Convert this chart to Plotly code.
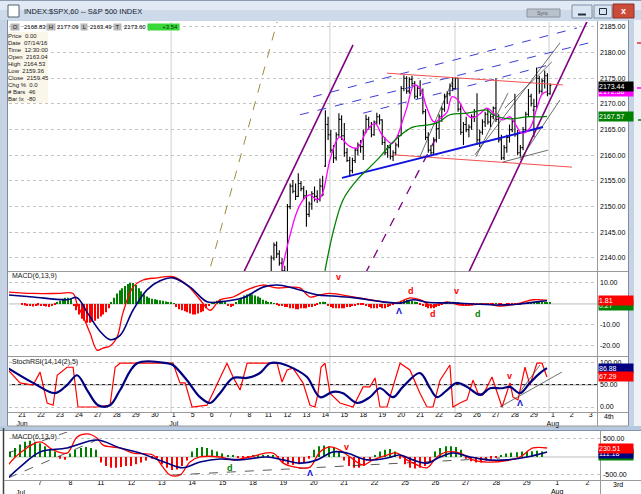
import plotly.graph_objects as go

FONT = "Liberation Sans, Arial, sans-serif"
W, H = 641, 494

RED = "#ff0000"
NAVY = "#000080"
GREEN = "#008000"
BLUE = "#1010e0"

# ---------------- upper window: SPX 60 min, x = trading day index (0 = Jun 21) ----------------
day_labels = ["21<br>Jun", "22", "23", "24", "27", "28", "29", "30", "1<br>Jul", "5", "6", "7", "8",
              "11", "12", "13", "14", "15", "18", "19", "20", "21", "22", "25", "26", "27", "28", "29",
              "1<br>Aug", "2", "3"]
bar_days = list(range(13, 28))  # Jul 11 .. Jul 29, earlier bars sit below the price scale
bars_per_day = 7

bar_open = [
    2129.9, 2136.0, 2140.0, 2142.5, 2140.8, 2139.0, 2137.5,
    2137.2, 2150.0, 2154.0, 2153.0, 2152.0, 2154.5, 2153.5,
    2152.1, 2148.5, 2150.5, 2152.5, 2152.0, 2151.5, 2154.0,
    2157.9, 2166.0, 2164.0, 2161.0, 2159.5, 2164.0, 2167.0,
    2163.8, 2160.5, 2159.0, 2157.0, 2159.0, 2161.0, 2162.0,
    2161.7, 2164.5, 2167.0, 2165.5, 2164.0, 2166.5, 2167.5,
    2166.9, 2162.5, 2160.5, 2161.5, 2159.8, 2160.5, 2162.0,
    2163.8, 2173.0, 2175.0, 2172.5, 2174.8, 2174.0, 2171.5,
    2173.0, 2172.0, 2168.5, 2163.5, 2161.0, 2160.5, 2163.0,
    2165.2, 2167.5, 2169.0, 2171.5, 2172.0, 2173.5, 2173.0,
    2175.0, 2169.0, 2164.5, 2166.0, 2165.0, 2165.5, 2167.5,
    2168.5, 2163.0, 2164.5, 2166.5, 2168.0, 2166.5, 2167.5,
    2169.2, 2167.0, 2163.0, 2159.5, 2161.5, 2163.5, 2165.0,
    2166.6, 2164.0, 2160.5, 2161.5, 2165.0, 2168.0, 2171.5,
    2168.8, 2169.5, 2175.0, 2172.5, 2174.5, 2175.5, 2172.0,
]
bar_high = [
    2136.5, 2140.5, 2143.0, 2143.2, 2141.5, 2140.0, 2138.5,
    2150.5, 2154.5, 2155.2, 2154.5, 2156.5, 2155.0, 2154.0,
    2153.2, 2151.0, 2153.0, 2153.9, 2153.2, 2155.5, 2156.0,
    2168.8, 2167.5, 2165.0, 2162.0, 2164.5, 2168.2, 2167.8,
    2166.3, 2161.4, 2159.7, 2159.5, 2161.5, 2162.5, 2163.0,
    2165.0, 2167.9, 2167.5, 2166.5, 2166.8, 2168.3, 2168.0,
    2167.0, 2163.5, 2162.0, 2162.0, 2161.0, 2162.5, 2164.0,
    2173.5, 2175.6, 2175.4, 2175.2, 2175.5, 2174.5, 2173.5,
    2174.6, 2173.0, 2169.0, 2164.5, 2162.0, 2163.5, 2166.5,
    2168.0, 2169.5, 2172.0, 2172.5, 2174.0, 2175.1, 2175.1,
    2175.0, 2170.0, 2166.5, 2167.5, 2166.0, 2168.0, 2169.0,
    2172.1, 2165.0, 2167.0, 2168.5, 2169.0, 2168.0, 2169.5,
    2175.0, 2168.0, 2164.0, 2162.0, 2164.0, 2166.0, 2167.0,
    2172.0, 2165.0, 2162.0, 2165.5, 2168.5, 2172.9, 2172.0,
    2171.0, 2177.1, 2175.5, 2175.0, 2176.5, 2176.0, 2174.0,
]
bar_low = [
    2129.9, 2135.5, 2139.5, 2140.0, 2138.5, 2137.0, 2136.5,
    2137.2, 2149.5, 2152.6, 2151.3, 2151.9, 2153.0, 2151.5,
    2146.1, 2148.0, 2149.4, 2151.0, 2150.7, 2151.0, 2152.0,
    2157.7, 2163.0, 2160.5, 2158.5, 2159.0, 2163.6, 2163.0,
    2159.7, 2158.7, 2155.8, 2156.5, 2158.5, 2160.0, 2160.5,
    2159.1, 2164.3, 2165.0, 2163.5, 2163.8, 2166.0, 2166.0,
    2162.0, 2160.0, 2159.5, 2159.2, 2158.9, 2160.0, 2161.5,
    2163.8, 2172.5, 2172.0, 2172.0, 2173.5, 2171.0, 2171.0,
    2171.5, 2168.0, 2163.0, 2160.5, 2159.8, 2160.0, 2162.5,
    2163.2, 2166.5, 2168.5, 2170.0, 2171.5, 2172.5, 2172.8,
    2168.5, 2164.0, 2162.0, 2164.5, 2163.5, 2165.0, 2166.5,
    2162.0, 2161.6, 2164.0, 2165.5, 2166.0, 2165.5, 2167.0,
    2166.5, 2162.5, 2159.1, 2159.1, 2160.5, 2162.5, 2164.5,
    2163.6, 2160.0, 2159.7, 2161.0, 2164.5, 2167.5, 2169.5,
    2163.5, 2169.0, 2172.0, 2172.0, 2173.0, 2171.5, 2171.8,
]
bar_close = [
    2136.0, 2140.0, 2142.5, 2140.8, 2139.0, 2137.5, 2137.2,
    2150.0, 2154.0, 2153.0, 2152.0, 2154.5, 2153.5, 2152.1,
    2148.5, 2150.5, 2152.5, 2152.0, 2151.5, 2154.0, 2152.4,
    2166.0, 2164.0, 2161.0, 2159.5, 2164.0, 2167.0, 2163.8,
    2160.5, 2159.0, 2157.0, 2159.0, 2161.0, 2162.0, 2161.7,
    2164.5, 2167.0, 2165.5, 2164.0, 2166.5, 2167.5, 2166.9,
    2162.5, 2160.5, 2161.5, 2159.8, 2160.5, 2162.0, 2163.8,
    2173.0, 2175.0, 2172.5, 2174.8, 2174.0, 2171.5, 2173.0,
    2172.0, 2168.5, 2163.5, 2161.0, 2160.5, 2163.0, 2165.2,
    2167.5, 2169.0, 2171.5, 2172.0, 2173.5, 2173.0, 2175.0,
    2169.0, 2164.5, 2166.0, 2165.0, 2165.5, 2167.5, 2168.5,
    2163.0, 2164.5, 2166.5, 2168.0, 2166.5, 2167.5, 2169.2,
    2167.0, 2163.0, 2159.5, 2161.5, 2163.5, 2165.0, 2166.6,
    2164.0, 2160.5, 2161.5, 2165.0, 2168.0, 2171.5, 2170.1,
    2169.5, 2175.0, 2172.5, 2174.5, 2175.5, 2172.0, 2173.6,
]

ma_fast_x = [13.71, 14.14, 14.50, 14.82, 15.19, 15.56, 15.82, 16.24, 16.61, 16.77, 17.19, 17.67, 18.20,
             18.62, 18.99, 19.51, 19.78, 20.09, 20.31, 20.68, 20.99, 21.36, 21.73, 22.10, 22.42, 22.68,
             22.99, 23.37, 23.73, 24.16, 24.53, 24.95, 25.37, 25.74, 26.05, 26.37, 26.79, 27.16, 27.43, 27.69]
ma_fast = [2137.7, 2144.5, 2149.0, 2151.3, 2152.3, 2151.3, 2152.3, 2159.1, 2163.0, 2163.6, 2162.0, 2161.4,
           2164.9, 2166.2, 2164.0, 2162.3, 2163.6, 2166.9, 2169.4, 2173.7, 2173.1, 2169.2, 2166.5, 2167.3,
           2168.4, 2171.4, 2170.8, 2168.4, 2167.3, 2168.1, 2169.2, 2167.9, 2166.9, 2167.5, 2165.9, 2164.3,
           2165.3, 2169.2, 2171.9, 2172.4]
ma_slow_x = [15.98, 16.40, 16.93, 17.67, 18.35, 18.88, 19.41, 20.09, 20.62, 21.36, 21.89, 22.57, 23.47,
             24.53, 24.84, 25.74, 26.63, 27.48, 27.69]
ma_slow = [2137.5, 2144.9, 2151.3, 2155.2, 2157.7, 2159.7, 2162.0, 2164.3, 2165.5, 2165.9, 2166.3, 2167.9,
           2168.2, 2168.8, 2167.9, 2167.1, 2167.5, 2167.5, 2167.6]

# hand-drawn trendlines: (x0, price0, x1, price1)
lines_purple = [(11.60, 2136.5, 17.46, 2181.5), (23.50, 2136.7, 29.95, 2187.2)]
lines_purple_dash = [(18.10, 2136.9, 21.78, 2163.0)]
lines_olive = [(9.70, 2135.0, 13.60, 2188.0)]
lines_blue_dash = [(15.35, 2171.4, 29.27, 2184.8), (14.66, 2167.9, 30.12, 2182.1), (17.99, 2168.2, 28.01, 2177.8)]
lines_blue = [(16.88, 2155.6, 27.48, 2165.5)]
lines_red = [(19.25, 2176.0, 28.53, 2173.7), (19.57, 2160.1, 29.01, 2157.7)]
lines_black = [(23.89, 2160.1, 28.38, 2181.9), (25.47, 2169.2, 27.95, 2178.2), (26.27, 2159.1, 28.38, 2170.8),
               (25.37, 2158.7, 27.74, 2161.0), (20.99, 2159.7, 22.73, 2174.7), (23.94, 2159.7, 25.63, 2172.1)]
session_lines = [7.86, 16.24, 22.84, 27.80]

# MACD(6,13,9) hourly
macd_x = [-0.74, 0.58, 2.00, 2.69, 2.90, 3.22, 3.59, 3.96, 4.27, 4.64, 5.01, 5.33, 5.85, 6.38, 7.12, 7.96,
          8.70, 9.39, 9.92, 10.44, 11.13, 11.87, 12.71, 13.45, 14.14, 14.66, 15.19, 15.72, 16.24, 17.46,
          18.35, 19.04, 19.78, 20.46, 20.99, 21.68, 22.42, 23.10, 24.53, 25.21, 26.11, 26.95, 27.69]
macd = [5.7, 5.0, 5.0, 5.0, 0.0, -6.0, -14.0, -22.0, -21.0, -20.0, -15.7, -4.0, 8.0, 11.4, 12.4, 13.0,
        9.0, 2.0, -3.0, 2.0, 3.3, 6.7, 9.0, 7.6, 8.0, 7.6, 3.3, 4.3, 5.0, 3.3,
        2.0, 1.0, 0.5, 2.9, 2.0, -1.0, 1.0, -0.5, 0.0, -1.0, 0.0, 2.0, 1.8]
signal_x = [-0.74, 0.58, 2.37, 2.90, 3.43, 4.11, 4.64, 5.17, 5.85, 6.59, 7.28, 7.96, 8.86, 9.76, 10.44,
            11.66, 12.71, 13.45, 14.29, 15.56, 16.40, 17.46, 19.04, 19.94, 20.62, 21.36, 22.05, 22.73,
            23.79, 25.21, 26.27, 27.16, 27.69]
signal = [4.3, 3.3, 2.0, 3.0, -4.0, -13.0, -17.0, -15.0, -3.0, 6.7, 11.0, 12.4, 8.0, 1.0, 1.0,
          2.9, 8.0, 9.0, 7.6, 4.3, 3.8, 3.0, 1.0, 0.4, 2.0, 0.8, 0.5, 0.5,
          0.0, -0.5, 0.0, 1.0, 1.5]
macd_hist_rows = [
    [-0.5, -0.8, -1.0, -1.0, -1.2, -1.0, -0.8], [-1.0, -1.0, -1.2, -1.5, -1.0, -0.5, 0.5],
    [1.5, 2.5, 3.0, 3.0, 2.5, -1.0, -3.0], [-5.0, -7.0, -8.0, -9.0, -9.0, -8.5, -8.0],
    [-7.0, -6.0, -5.0, -4.0, -2.0, 0.5, 3.0], [5.0, 6.5, 7.5, 8.5, 9.5, 10.0, 10.0],
    [9.0, 7.5, 6.0, 4.5, 3.5, 3.0, 2.5], [2.2, 2.0, 1.8, 1.5, 1.2, 0.8, 0.5],
    [0.2, -1.5, -2.5, -3.0, -3.5, -4.0, -4.5], [-5.0, -5.0, -4.5, -4.0, -3.5, -2.0, -1.0],
    [0.5, 1.0, 1.5, 2.0, 1.5, 1.0, -1.0], [-1.5, -1.0, 0.5, 2.0, 3.0, 4.0, 4.5],
    [5.0, 4.5, 4.0, 3.5, 3.0, 2.0, 1.5], [1.0, 0.5, 0.2, -0.5, -1.0, -1.0, -1.5],
    [-1.5, -2.0, -2.0, -2.5, -2.5, -2.0, -2.0], [-2.0, -1.5, -1.5, -1.0, -0.5, 0.5, 1.0],
    [0.5, -1.0, -1.5, -2.0, -2.0, -2.0, -2.0], [-2.0, -1.5, -1.5, -1.0, -1.0, -0.5, -0.5],
    [-0.5, -1.0, -1.5, -2.0, -2.0, -2.0, -1.5], [-2.0, -2.0, -1.5, -1.0, -0.5, 0.5, 1.0],
    [1.5, 2.0, 2.0, 2.0, 1.5, 1.0, 0.5], [-0.5, -1.0, -1.5, -2.0, -2.0, -2.0, -1.5],
    [-1.0, -0.5, 0.5, 1.0, 1.0, 1.0, 0.8], [0.5, -0.5, -1.0, -1.0, -1.0, -0.8, -0.5],
    [-0.3, 0.2, 0.3, 0.3, 0.2, -0.2, -0.3], [0.3, -0.5, -0.8, -1.0, -0.8, -0.5, -0.2],
    [-0.3, -0.5, -0.4, 0.2, 0.4, 0.6, 0.7], [0.8, 0.9, 1.0, 0.8, 0.7, 0.6, 0.5],
]

# StochRSI(14,14(2),5)
stoch_k_x = [-0.74, -0.11, 0.58, 0.95, 1.32, 1.64, 1.85, 2.37, 2.69, 2.95, 3.96, 4.64, 4.91, 5.17, 7.96,
             8.33, 8.60, 8.97, 9.76, 10.28, 10.81, 11.13, 11.50, 11.87, 13.45, 13.71, 13.98, 14.29, 14.82,
             15.19, 15.45, 15.61, 15.77, 15.98, 16.24, 16.77, 17.46, 17.99, 18.35, 18.62, 18.88, 19.25,
             19.94, 20.46, 20.99, 21.36, 21.68, 22.05, 22.57, 22.73, 23.10, 23.47, 23.79, 24.05, 24.31,
             24.79, 25.05, 25.32, 25.74, 25.90, 26.16, 26.53, 26.79, 27.16, 27.43, 27.69]
stoch_k = [83, 54, 49, 78, 9, 4, 71, 89, 89, 0, 0, 4, 89, 98, 98,
           54, 54, 0, 4, 49, 98, 67, 38, 98, 98, 56, 83, 87, 54,
           4, 0, 30, 89, 98, 31, 9, 0, 45, 45, 65, 0, 0,
           98, 83, 31, 0, 0, 60, 94, 0, 9, 16, 60, 31, 27,
           67, 34, 0, 54, 22, 16, 89, 49, 98, 98, 67]
stoch_d_x = [-0.74, 0.58, 1.74, 2.37, 2.90, 3.43, 4.01, 4.64, 5.17, 6.07, 7.65, 7.96, 8.70, 9.39, 9.92,
             10.44, 11.13, 11.87, 12.55, 13.08, 13.61, 14.29, 15.03, 15.72, 16.40, 16.93, 17.67, 18.35,
             18.88, 19.57, 20.09, 20.99, 21.52, 21.89, 22.42, 22.94, 23.47, 24.16, 24.68, 25.32, 25.74,
             26.27, 26.79, 27.32, 27.69]
stoch_d = [87, 54, 31, 49, 71, 38, 4, 4, 38, 98, 98, 94, 60, 22, 9,
           31, 65, 65, 76, 98, 98, 87, 67, 22, 34, 31, 9, 22,
           42, 22, 45, 76, 42, 22, 38, 54, 45, 27, 42, 42, 45,
           31, 54, 76, 87]
stoch_lines = [(25.21, 0.0, 28.48, 78.3), (26.27, 34.0, 27.32, 94.0)]

signals_macd = [(16.67, 12.9, "v", RED), (20.52, 6.2, "d", RED), (19.88, -3.3, "\u039b", BLUE),
                (21.68, -4.8, "d", RED), (22.94, 6.2, "v", RED), (24.05, -4.8, "d", GREEN)]
signals_stoch = [(25.74, 69, "v", RED), (26.27, 9, "\u039b", BLUE)]

# ---------------- lower window: MACD(6,13,9), x = day index (0 = Jul 7) ----------------
low_day_labels = ["7", "8", "11", "12", "13", "14", "15", "18", "19", "20", "21", "22", "25", "26",
                  "27", "28", "29", "1<br>Aug", "2"]
low_first_day = -1
low_bars_per_day = 6
low_macd_x = [-1.05, -0.66, 0.00, 0.43, 0.89, 1.22, 1.55, 1.87, 2.07, 2.63, 3.06, 3.71, 4.04, 4.27, 4.60,
              4.93, 5.26, 5.92, 6.34, 6.90, 7.66, 7.99, 8.55, 8.88, 9.20, 9.53, 9.86, 10.19, 10.62, 10.95,
              11.41, 11.74, 12.06, 12.39, 12.72, 13.05, 13.38, 13.81, 14.23, 14.69, 15.35, 15.78, 16.21, 16.67]
low_macd = [-222, 110, 420, 195, 110, 555, 640, 530, 330, 250, 110, 55, -280, -500, -500,
            -140, 0, 0, -80, 0, 110, -170, -300, -280, 140, 280, 195, 0, -220, -80,
            55, 110, -80, -220, -300, 0, 140, 110, -80, -140, -100, 0, 250, 250]
low_signal_x = [-1.05, -0.66, 0.00, 0.89, 1.87, 2.63, 3.29, 4.17, 4.70, 5.26, 5.92, 6.57, 7.46, 7.99, 8.55,
                9.11, 9.63, 10.09, 10.75, 11.41, 11.83, 12.26, 12.72, 13.15, 13.58, 14.14, 14.69, 15.35,
                16.01, 16.67]
low_signal = [-580, -280, 140, 250, 470, 250, 110, -170, -300, -140, -55, -80, 0, -80, -170,
              -80, 140, 110, -80, -30, 55, -80, -170, 0, 110, 0, -80, -80,
              0, 140]
low_hist_rows = [
    [150, 250, 350, 420, 450, 420], [380, 300, 220, 150, -50, -80], [100, 200, 250, 280, 250, 200],
    [-150, -250, -300, -300, -280, -250], [-250, -200, -150, -100, -50, -30],
    [-200, -300, -360, -350, -250, -100], [150, 250, 280, 250, 200, 150], [100, 50, 30, -30, -50, -30],
    [30, 50, 60, 50, 40, -50], [-150, -200, -220, -200, -150, -50], [200, 300, 320, 300, 250, 150],
    [-100, -250, -300, -300, -250, -100], [50, 150, 200, 220, 150, -50],
    [-200, -300, -320, -300, -250, -150], [150, 250, 300, 300, 280, 200],
    [-50, -120, -150, -150, -100, -50], [-30, 50, 100, 120, 130, 150], [150, 160, 170, 150],
]
low_lines = [(-1.05, -583, 1.87, 472), (-1.05, 110, 0.89, 694), (4.37, -500, 15.12, -28)]
signals_low = [(10.09, 278, "v", RED), (6.25, -306, "d", GREEN), (8.88, -444, "\u039b", BLUE)]


# ---------------- figure ----------------
def X(p):
    return p / W


def Y(p):
    return 1 - p / H


bar_x = [d + i / bars_per_day for d in bar_days for i in range(bars_per_day)]
hist_x = [d + i / bars_per_day for d, row in enumerate(macd_hist_rows) for i in range(len(row))]
hist = [v for row in macd_hist_rows for v in row]
low_hist_x = [low_first_day + d + i / low_bars_per_day for d, row in enumerate(low_hist_rows) for i in range(len(row))]
low_hist = [v for row in low_hist_rows for v in row]

fig = go.Figure()

fig.add_trace(go.Ohlc(x=bar_x, open=bar_open, high=bar_high, low=bar_low, close=bar_close,
                      increasing=dict(line=dict(color="black", width=1.1)),
                      decreasing=dict(line=dict(color="black", width=1.1)),
                      tickwidth=0.45, xaxis="x", yaxis="y"))


def seg(lines, color, width=1.0, dash="solid", xa="x", ya="y"):
    for x0, y0, x1, y1 in lines:
        fig.add_trace(go.Scatter(x=[x0, x1], y=[y0, y1], mode="lines", xaxis=xa, yaxis=ya,
                                 line=dict(color=color, width=width, dash=dash)))


seg(lines_olive, "#9c8c3c", 1, "dash")
seg(lines_purple, "#800080", 1.6)
seg(lines_purple_dash, "#800080", 1.3, "dash")
seg(lines_blue_dash, "#3c3cd8", 1, "dash")
seg(lines_red, "#f05050", 1)
seg(lines_black, "#303030", 0.7)
seg(lines_blue, BLUE, 2)

fig.add_trace(go.Scatter(x=ma_fast_x, y=ma_fast, mode="lines", line=dict(color="#ff00ff", width=1.3, shape="spline"),
                         xaxis="x", yaxis="y"))
fig.add_trace(go.Scatter(x=ma_slow_x, y=ma_slow, mode="lines", line=dict(color=GREEN, width=1.3, shape="spline"),
                         xaxis="x", yaxis="y"))

# MACD hourly
fig.add_trace(go.Bar(x=hist_x, y=hist, width=0.055, xaxis="x2", yaxis="y2",
                     marker=dict(color=[GREEN if v >= 0 else RED for v in hist], line=dict(width=0))))
fig.add_trace(go.Scatter(x=macd_x, y=macd, mode="lines", line=dict(color=RED, width=1.3, shape="spline"),
                         xaxis="x2", yaxis="y2"))
fig.add_trace(go.Scatter(x=signal_x, y=signal, mode="lines", line=dict(color=NAVY, width=1.6, shape="spline"),
                         xaxis="x2", yaxis="y2"))

# StochRSI
fig.add_trace(go.Scatter(x=stoch_k_x, y=stoch_k, mode="lines", line=dict(color=RED, width=1.2),
                         xaxis="x3", yaxis="y3"))
fig.add_trace(go.Scatter(x=stoch_d_x, y=stoch_d, mode="lines", line=dict(color=NAVY, width=2.2, shape="spline"),
                         xaxis="x3", yaxis="y3"))
seg(stoch_lines, "#303030", 0.7, xa="x3", ya="y3")

# lower MACD
fig.add_trace(go.Bar(x=low_hist_x, y=low_hist, width=0.035, xaxis="x4", yaxis="y4",
                     marker=dict(color=[GREEN if v >= 0 else RED for v in low_hist], line=dict(width=0))))
seg(low_lines, "#303030", 0.8, "dash", xa="x4", ya="y4")
fig.add_trace(go.Scatter(x=low_macd_x, y=low_macd, mode="lines", line=dict(color=RED, width=1.3, shape="spline"),
                         xaxis="x4", yaxis="y4"))
fig.add_trace(go.Scatter(x=low_signal_x, y=low_signal, mode="lines", line=dict(color=NAVY, width=1.6, shape="spline"),
                         xaxis="x4", yaxis="y4"))

tick_font = dict(family=FONT, size=7, color="black")
grid = dict(showgrid=True, gridcolor="#c4c4c4", griddash="dot", gridwidth=1, zeroline=False, automargin=False,
            showline=False, ticks="", tickfont=tick_font, side="right", ticklabelstandoff=2, fixedrange=True)
up_dom = [X(9), X(597)]

fig.update_layout(
    width=W, height=H, margin=dict(l=0, r=0, t=0, b=0, autoexpand=False),
    paper_bgcolor="#c9d6e6", plot_bgcolor="rgba(0,0,0,0)", showlegend=False,
    font=dict(family=FONT), hovermode=False,
    xaxis=dict(domain=up_dom, range=[-0.69, 30.33], anchor="y", showticklabels=False, showgrid=False,
               zeroline=False, rangeslider=dict(visible=False), fixedrange=True, automargin=False),
    yaxis=dict(domain=[Y(271), Y(22)], range=[2137.46, 2185.97], anchor="x",
               tickvals=[2140 + 5 * i for i in range(10)],
               ticktext=["%.2f" % (2140 + 5 * i) for i in range(10)], **grid),
    xaxis2=dict(domain=up_dom, matches="x", anchor="y2", showticklabels=False, showgrid=False, zeroline=False,
                automargin=False),
    yaxis2=dict(domain=[Y(355), Y(272)], range=[-24.3, 15.2], anchor="x2",
                tickvals=[10, -10, -20], ticktext=["10.00", "-10.00", "-20.00"], **grid),
    xaxis3=dict(domain=up_dom, matches="x", anchor="y3", showgrid=False, zeroline=False, ticks="",
                tickvals=list(range(len(day_labels))), ticktext=day_labels, tickfont=tick_font,
                ticklabelstandoff=-3, tickangle=0, automargin=False),
    yaxis3=dict(domain=[Y(412), Y(357)], range=[-11.2, 111.9], anchor="x3",
                tickvals=[0, 50, 100], ticktext=["0.00", "50.00", "100.00"], **grid),
    xaxis4=dict(domain=[X(9), X(600)], range=[-1.02, 18.41], anchor="y4", showgrid=False, zeroline=False,
                ticks="", tickvals=list(range(len(low_day_labels))), ticktext=low_day_labels,
                tickfont=tick_font, ticklabelstandoff=-3, tickangle=0, fixedrange=True, automargin=False),
    yaxis4=dict(domain=[Y(480), Y(432)], range=[-639, 694], anchor="x4",
                tickvals=[500, -500], ticktext=["500.00", "-500.00"], **grid),
)


# ---------------- window chrome ----------------
def rect(x0, y0, x1, y1, fill, line=None, layer="below"):
    return dict(type="rect", xref="paper", yref="paper", x0=X(x0), x1=X(x1), y0=Y(y1), y1=Y(y0),
                fillcolor=fill, line=dict(width=1 if line else 0, color=line or fill), layer=layer)


def hline(y, x0, x1, color="#9a9a9a", width=1, layer="above", dash="solid"):
    return dict(type="line", xref="paper", yref="paper", x0=X(x0), x1=X(x1), y0=Y(y), y1=Y(y),
                line=dict(color=color, width=width, dash=dash), layer=layer)


def vline(x, y0, y1, color="#9a9a9a", width=1, layer="above", dash="solid"):
    return dict(type="line", xref="paper", yref="paper", x0=X(x), x1=X(x), y0=Y(y0), y1=Y(y1),
                line=dict(color=color, width=width, dash=dash), layer=layer)


shapes = [
    rect(0, 0, 641, 10, "#e0e9f4"),
    rect(0, 10, 641, 20, "#ccdaea"),
    hline(0.5, 0, 641, "#8e9cb0", 1, "below"),
    rect(0, 20, 8, 428, "#c5d3e4"),
    vline(7.5, 20, 428, "#7d8ca0", 1, "below"),
    rect(8, 21, 628, 426, "white"),
    rect(628, 20, 634, 428, "#c5d3e4"),
    vline(628.5, 20, 428, "#7d8ca0", 1, "below"),
    rect(634, 20, 641, 428, "#eef2f6"),
    rect(0, 426, 641, 431, "#b7c9de"),
    hline(430.5, 0, 641, "#8093aa", 1, "below"),
    rect(0, 431, 641, 494, "white"),
    vline(3.5, 428, 494, "#404040", 1.5, "below"),
    # panel frames
    hline(271.5, 8, 628), hline(356.5, 8, 628), hline(412.5, 8, 628), hline(426, 8, 628, "#9a9a9a"),
    vline(597.5, 21, 426), vline(600.5, 431, 494), hline(480.5, 4, 641),
    # info box
    rect(8, 32, 48, 103, "#fbf6ea", layer="above"),
    # title bar icon and buttons
    rect(8, 5, 19, 17, "white", "#506070", "above"),
    rect(527, 9, 560, 17, "#b9c1ca", "#8a94a0", "above"),
    rect(572, 5, 592, 18, "#dbe5f1", "#7f8fa6", "above"),
    rect(594, 5, 612, 18, "#dbe5f1", "#7f8fa6", "above"),
    rect(613, 4, 634, 18, "#cc4a3a", "#8a3028", "above"),
    hline(14.5, 578, 586, "#203040", 2),
    rect(599.5, 8.5, 606.5, 14.5, "rgba(0,0,0,0)", "#203040", "above"),
    # edge of the neighbouring window on the right
    hline(43, 637, 641, "#e03030", 1.5), hline(88, 637, 641, "#ff00ff", 1.5), hline(120, 638, 641, GREEN, 1.5),
]
for x0 in session_lines:
    shapes.append(dict(type="line", xref="x", yref="paper", x0=x0, x1=x0, y0=Y(412), y1=Y(22),
                       line=dict(color="#cfcfcf", width=1), layer="below"))
shapes.append(dict(type="line", xref="x3 domain", yref="y3", x0=0, x1=1, y0=50, y1=50,
                   line=dict(color="black", width=1), layer="below"))
shapes.append(dict(type="line", xref="x2 domain", yref="y2", x0=0, x1=1, y0=0, y1=0,
                   line=dict(color="#bdbdbd", width=1), layer="below"))
shapes.append(dict(type="line", xref="x4 domain", yref="y4", x0=0, x1=1, y0=0, y1=0,
                   line=dict(color="#bdbdbd", width=1), layer="below"))
fig.update_layout(shapes=shapes)

ann = []


def text(px, py, s, size=7, color="black", xanchor="left", bold=False, **kw):
    if bold:
        s = "<b>" + s + "</b>"
    ann.append(dict(xref="paper", yref="paper", x=X(px), y=Y(py), text=s, showarrow=False,
                    xanchor=xanchor, yanchor="middle", font=dict(family=FONT, size=size, color=color), **kw))


def box(px, py, s, bg, fg="white", w=None, size=6):
    ann.append(dict(xref="paper", yref="paper", x=X(px), y=Y(py), text=s, showarrow=False,
                    xanchor="left", yanchor="middle", bgcolor=bg, borderpad=0,
                    width=w, align="right" if w else "left",
                    font=dict(family=FONT, size=size, color=fg)))


def value_box(yref, val, s, bg, fg="white"):
    ann.append(dict(xref="paper", yref=yref, x=X(598), y=val, text=s, showarrow=False,
                    xanchor="left", yanchor="middle", bgcolor=bg, borderpad=0, width=34, height=9,
                    align="left", font=dict(family=FONT, size=7, color=fg)))


text(22, 11, "INDEX:$SPX,60 -- S&P 500 INDEX", size=7.5, color="#18202c")
text(543, 13, "Sync", size=5, color="#505860", xanchor="center")
text(623.5, 11, "x", size=9, color="white", xanchor="center", bold=True)

# header row
box(10, 27, " O ", "#b8b8b8", "#202020")
text(22, 27, "2168.83", size=6)
box(46, 27, " H ", "#b8b8b8", "#202020")
text(55, 27, "2177.09", size=6)
box(80, 27, " L ", "#b8b8b8", "#202020")
text(88, 27, "2163.49", size=6)
box(113, 27, " T ", "#b8b8b8", "#202020")
text(122, 27, "2173.60", size=6)
box(147, 27, "N           +3.54 ", "#38d838", "#103010", w=31)

info_lines = ["Price  0.00", "Date  07/14/16", "Time  12:30:00", "Open  2163.04", "High  2164.53",
              "Low  2159.36", "Close  2159.45", "Chg %  0.0", "# Bars  46", "Bar Ix  -80"]
for i, s in enumerate(info_lines):
    text(6, 35.7 + 7 * i, s, size=6, color="#202020")

text(10, 276, "MACD(6,13,9)", size=7, color="#202020")
text(10, 362, "StochRSI(14,14(2),5)", size=7, color="#202020")
text(10, 437, "MACD(6,13,9)", size=7, color="#202020")
text(609, 416, "4th", size=7, xanchor="center")
text(618, 484, "3rd", size=7, xanchor="center")
text(20, 492, "Jul", size=7, xanchor="center")

value_box("y", 2172.38, "2172.38", "#ff00ff")
value_box("y", 2173.44, "2173.44", "black")
value_box("y", 2167.57, "2167.57", GREEN)
value_box("y2", -0.9, "0.27", GREEN)
value_box("y2", 1.81, "1.81", RED)
value_box("y3", 86.88, "86.88", NAVY)
value_box("y3", 67.29, "67.29", RED)
value_box("y4", 30, "28.76", GREEN)
value_box("y4", 110, "111.18", NAVY)
value_box("y4", 230.51, "230.51", RED)


def marks(items, xref, yref):
    for x, y, s, c in items:
        ann.append(dict(xref=xref, yref=yref, x=x, y=y, text="<b>" + s + "</b>", showarrow=False,
                        font=dict(family=FONT, size=9, color=c)))


marks(signals_macd, "x2", "y2")
marks(signals_stoch, "x3", "y3")
marks(signals_low, "x4", "y4")

fig.update_layout(annotations=ann)

reset_css = ("var s=document.createElement('style');"
             "s.textContent='html,body{margin:0;padding:0;overflow:hidden}';"
             "document.head.appendChild(s);")
fig.write_html("out.html", config={"displayModeBar": False}, post_script=reset_css)
